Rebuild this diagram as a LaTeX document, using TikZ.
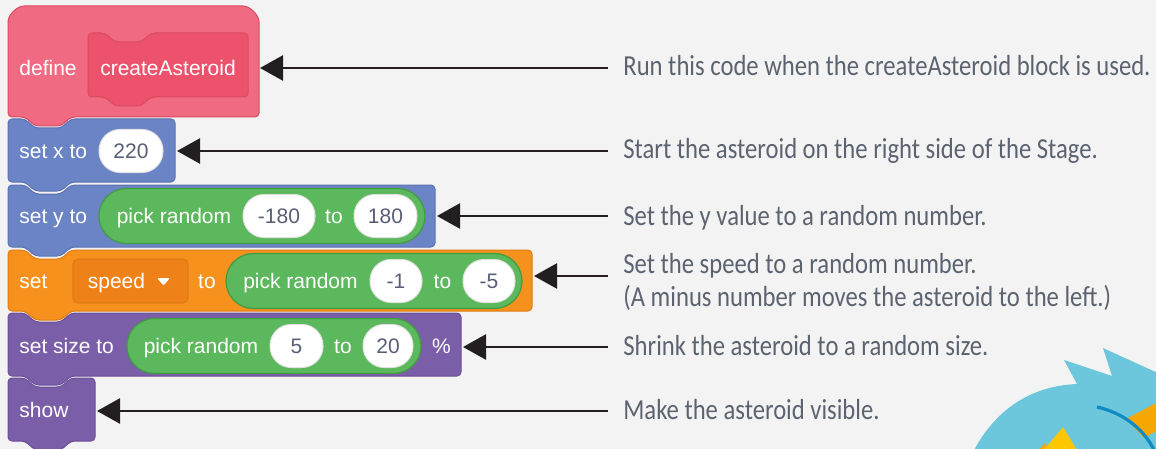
\documentclass[tikz,border=0pt]{standalone}
\usepackage{fontspec}
\setmainfont{Liberation Sans}
\newfontfamily\notefont[FakeStretch=0.85]{Carlito}
\usetikzlibrary{arrows.meta}

\definecolor{bgpaper}{HTML}{F3F3F3}
\definecolor{defpink}{HTML}{F06A82}
\definecolor{defpinkin}{HTML}{EC526C}
\definecolor{defedge}{HTML}{DC4A62}
\definecolor{motion}{HTML}{6A84C6}
\definecolor{motionedge}{HTML}{5B72B2}
\definecolor{oper}{HTML}{5CB85C}
\definecolor{operedge}{HTML}{419B41}
\definecolor{vars}{HTML}{F7911E}
\definecolor{varsedge}{HTML}{E07D12}
\definecolor{varsdark}{HTML}{EE8218}
\definecolor{looks}{HTML}{7B5EA8}
\definecolor{looksedge}{HTML}{6A4E96}
\definecolor{slottext}{HTML}{575E75}
\definecolor{notetext}{HTML}{5C6370}
\definecolor{pointerink}{HTML}{231F20}
\definecolor{rockblue}{HTML}{6CC6DC}
\definecolor{rockline}{HTML}{0D8BC2}
\definecolor{rockorange}{HTML}{F6A800}
\definecolor{rockyellow}{HTML}{FFC700}

\newcommand{\stackblock}[6]{%
    \filldraw[fill=#1,draw=#2,line width=0.5pt,rounded corners=2pt]
        (#3,#4) -- (#3+17,#4) -- (#3+27,#4+9) -- (#3+53,#4+9) -- (#3+63,#4) -- (#5,#4)
        -- (#5,#6) -- (#3+63,#6) -- (#3+53,#6+9) -- (#3+27,#6+9) -- (#3+17,#6) -- (#3,#6) -- cycle;}

\begin{document}
\begin{tikzpicture}[x=0.5pt,y=-0.5pt,
        blocktxt/.style={text=white,inner sep=0pt,text height=7.6pt,text depth=0pt,font=\fontsize{10.5}{12}\selectfont},
        numslot/.style={blocktxt,text=slottext,fill=white,draw=black!12,line width=0.5pt,rounded corners=10.5pt,minimum height=21.5pt},
        reporter/.style={fill=oper,draw=operedge,line width=0.6pt,rounded corners=13.7pt,minimum height=27.5pt,inner sep=0pt},
        menubox/.style={fill=varsdark,draw=varsedge,line width=0.6pt,rounded corners=2.5pt,minimum height=22pt,minimum width=57.5pt,inner sep=0pt},
        note/.style={anchor=west,inner sep=0pt,text=notetext,text height=9.3pt,text depth=0pt,font=\notefont\fontsize{14.5}{17}\selectfont},
        pointer/.style={draw=pointerink,line width=1.3pt,-{Triangle[length=11.5pt,width=12.5pt]}}]
            \fill[bgpaper] (0,0) rectangle (1156,449);
            \clip (0,0) rectangle (1156,449);

            \filldraw[fill=defpink,draw=defedge,line width=0.5pt,rounded corners=2pt]
                (8,117) -- (8,26) .. controls (8,15) and (17,6) .. (28,6) -- (239,6) .. controls (250,6) and (259,15) .. (259,26)
                -- (259,117) -- (71,117) -- (61,126) -- (35,126) -- (25,117) -- cycle;
            \stackblock{defpinkin}{defedge}{88}{33}{248}{97}
            \node[blocktxt,anchor=west] (defword) at (19,68) {define};
            \node[blocktxt] (procname) at (168,68) {createAsteroid};

            \stackblock{motion}{motionedge}{8}{119}{175}{182}
            \node[blocktxt,anchor=west] (setx) at (19,151) {set x to};
            \node[numslot,minimum width=32pt] (xval) at (131,151) {220};

            \stackblock{motion}{motionedge}{8}{185}{435}{247}
            \node[blocktxt,anchor=west] (sety) at (19,216) {set y to};
            \node[reporter,minimum width=163pt] (yrand) at (262,216) {};
            \node[blocktxt] (ypick) at (174,216) {pick random};
            \node[numslot,minimum width=36pt] (ylow) at (279,216) {-180};
            \node[blocktxt] (yto) at (334,216) {to};
            \node[numslot,minimum width=31.5pt] (yhigh) at (385.5,216) {180};

            \stackblock{vars}{varsedge}{8}{250}{532}{311}
            \node[blocktxt,anchor=west] (setvar) at (19,281) {set};
            \node[menubox] (varmenu) at (130.5,281) {};
            \node[blocktxt] (varname) at (116.5,281) {speed};
            \fill[white,rounded corners=0.6pt] (157,278) -- (170,278) -- (163.5,285.5) -- cycle;
            \node[blocktxt] (varto) at (207,281) {to};
            \node[reporter,minimum width=148pt] (srand) at (374,281) {};
            \node[blocktxt] (spick) at (300.5,281) {pick random};
            \node[numslot,minimum width=26pt] (slow) at (396,281) {-1};
            \node[blocktxt] (sto) at (442.5,281) {to};
            \node[numslot,minimum width=26pt] (shigh) at (489,281) {-5};

            \stackblock{looks}{looksedge}{8}{313}{461}{376}
            \node[blocktxt,anchor=west] (setsize) at (19,346) {set size to};
            \node[reporter,minimum width=147pt] (zrand) at (274,346) {};
            \node[blocktxt] (zpick) at (201,346) {pick random};
            \node[numslot,minimum width=26.5pt] (zlow) at (296.5,346) {5};
            \node[blocktxt] (zto) at (343,346) {to};
            \node[numslot,minimum width=25pt] (zhigh) at (388,346) {20};
            \node[blocktxt] (zpct) at (441.5,346) {\%};

            \stackblock{looks}{looksedge}{8}{378}{95}{441}
            \node[blocktxt,anchor=west] (showword) at (19,410) {show};

            \coordinate (defR) at (260,68);
            \coordinate (setxR) at (177,151);
            \coordinate (setyR) at (437,216);
            \coordinate (setvarR) at (534,276);
            \coordinate (sizeR) at (463,347);
            \coordinate (showR) at (97,411);
            \coordinate (lead) at (608,0);

            \node[note] (runnote) at (623,66) {Run this code when the createAsteroid block is used.};
            \node[note] (startnote) at (623,149) {Start the asteroid on the right side of the Stage.};
            \node[note] (ynote) at (623,216) {Set the y value to a random number.};
            \node[note] (speednote) at (623,264) {Set the speed to a random number.};
            \node[note] (minusnote) at (623,297) {(A minus number moves the asteroid to the left.)};
            \node[note] (sizenote) at (623,346) {Shrink the asteroid to a random size.};
            \node[note] (shownote) at (623,410) {Make the asteroid visible.};

            \draw[pointer] (lead |- defR) -- (defR);
            \draw[pointer] (lead |- setxR) -- (setxR);
            \draw[pointer] (lead |- setyR) -- (setyR);
            \draw[pointer] (lead |- setvarR) -- (setvarR);
            \draw[pointer] (lead |- sizeR) -- (sizeR);
            \draw[pointer] (lead |- showR) -- (showR);

            \fill[rockblue] (973,452) .. controls (995,410) and (1030,386) .. (1077,384) -- (1064,360) -- (1112,376)
                -- (1103,348) -- (1160,374) -- (1160,452) -- cycle;
            \fill[rockorange] (1126,419) -- (1160,401) -- (1160,429) -- (1144,438) -- cycle;
            \draw[rockline,line width=1.6pt] (1097,407) .. controls (1124,413) and (1145,430) .. (1155,452);
            \fill[rockorange] (1037,452) -- (1045,443) -- (1050,452) -- cycle;
            \fill[rockyellow] (1042,452) -- (1063,427) -- (1078,452) -- cycle;
        \end{tikzpicture}
\end{document}
